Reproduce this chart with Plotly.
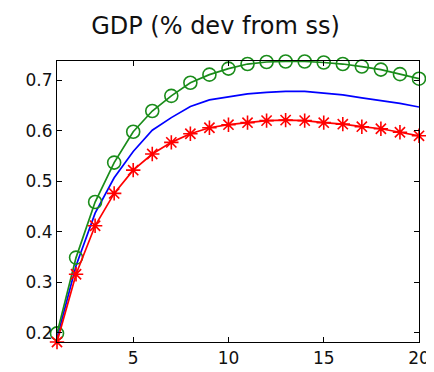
import plotly.graph_objects as go

periods = list(range(1, 21))
gdp_green = [0.199, 0.349, 0.459, 0.537, 0.598, 0.639, 0.669, 0.695, 0.711, 0.723,
             0.732, 0.736, 0.737, 0.737, 0.735, 0.732, 0.727, 0.721, 0.712, 0.703]
gdp_blue = [0.190, 0.333, 0.437, 0.507, 0.559, 0.601, 0.626, 0.648, 0.661, 0.667,
            0.673, 0.676, 0.678, 0.678, 0.675, 0.671, 0.665, 0.660, 0.654, 0.647]
gdp_red = [0.182, 0.316, 0.412, 0.476, 0.522, 0.554, 0.577, 0.594, 0.606, 0.612,
           0.616, 0.620, 0.621, 0.620, 0.616, 0.613, 0.608, 0.604, 0.597, 0.590]
x_ticks = [5, 10, 15, 20]
y_ticks = [0.2, 0.3, 0.4, 0.5, 0.6, 0.7]
y_tick_labels = ["0.2", "0.3", "0.4", "0.5", "0.6", "0.7"]
title_text = "GDP (% dev from ss)"

fig = go.Figure()
fig.add_trace(go.Scatter(x=periods, y=gdp_blue, mode="lines",
                         line=dict(color="#0000ff", width=1.7), showlegend=False))
fig.add_trace(go.Scatter(x=periods, y=gdp_green, mode="lines+markers",
                         line=dict(color="#1a8c1a", width=1.7),
                         marker=dict(symbol="circle-open", size=13, color="#1a8c1a",
                                     line=dict(width=1.6, color="#1a8c1a")),
                         showlegend=False, cliponaxis=False))
fig.add_trace(go.Scatter(x=periods, y=gdp_red, mode="lines+markers",
                         line=dict(color="#ff0000", width=1.7),
                         marker=dict(symbol="asterisk-open", size=12, color="#ff0000",
                                     line=dict(width=1.6, color="#ff0000")),
                         showlegend=False, cliponaxis=False))

axis_common = dict(showline=True, linecolor="black", linewidth=1.2, mirror="ticks",
                   ticks="inside", ticklen=5, tickwidth=1, tickcolor="black",
                   showgrid=False, zeroline=False,
                   tickfont=dict(family="DejaVu Sans", size=17, color="#111111"))

fig.update_layout(
    width=434, height=372,
    margin=dict(l=49, r=15, t=53, b=35),
    paper_bgcolor="white", plot_bgcolor="white",
    title=dict(text=title_text, x=207.5 / 434, xref="container", xanchor="center",
               y=1 - 18 / 372, yref="container", yanchor="middle",
               font=dict(family="DejaVu Sans", size=24, color="#111111")),
    xaxis=dict(range=[1, 20], tickvals=x_ticks, **axis_common),
    yaxis=dict(range=[0.182, 0.738], tickvals=y_ticks, ticktext=y_tick_labels,
               **axis_common),
)

fig.write_html("out.html")
